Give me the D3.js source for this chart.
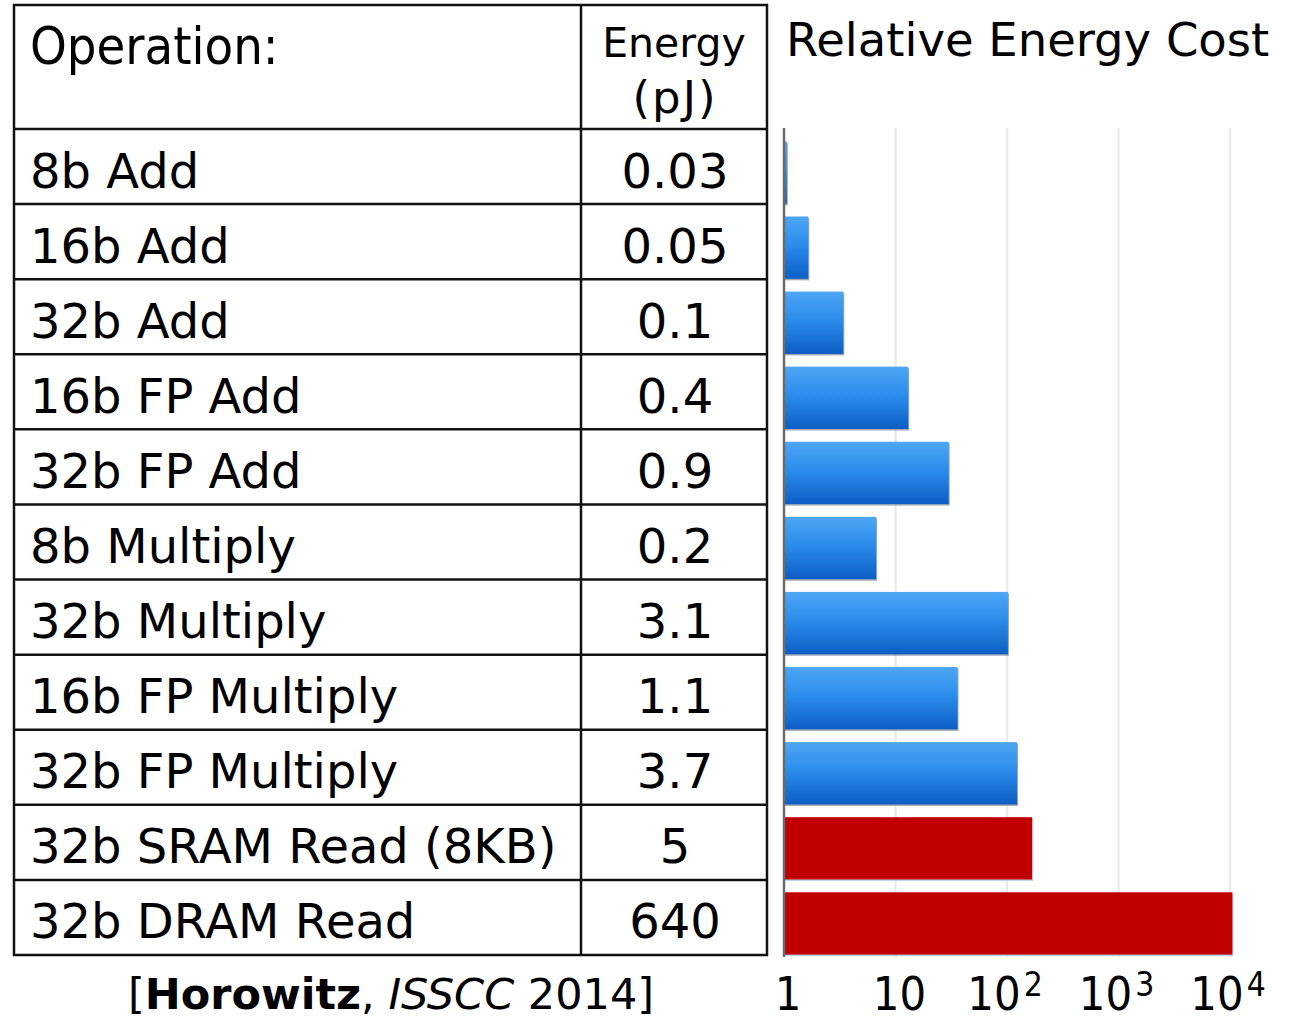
<!DOCTYPE html>
<html>
<head>
<meta charset="utf-8">
<script src="https://cdn.jsdelivr.net/npm/d3@7"></script>
<style>
  html, body { margin: 0; padding: 0; background: #fff; }
  svg { display: block; }
</style>
</head>
<body>
<svg id="chart" width="1304" height="1018"></svg>
<script>
// ---- Data ----
const operations = [
  "8b Add", "16b Add", "32b Add", "16b FP Add", "32b FP Add",
  "8b Multiply", "32b Multiply", "16b FP Multiply", "32b FP Multiply",
  "32b SRAM Read (8KB)", "32b DRAM Read"
];
const energyLabels = ["0.03", "0.05", "0.1", "0.4", "0.9", "0.2", "3.1", "1.1", "3.7", "5", "640"];
// relative energy cost
const relativeCost = [1.06, 1.65, 3.4, 13, 30, 6.7, 102, 36, 123, 168, 10500];
const opKind = ["compute", "compute", "compute", "compute", "compute",
  "compute", "compute", "compute", "compute", "memory", "memory"];
const tickValues = [1, 10, 100, 1000, 10000];
const tickBase = ["1", "10", "10", "10", "10"];
const tickSup = ["", "", "2", "3", "4"];
const headerOperation = "Operation:";
const headerEnergy = ["Energy", "(pJ)"];
const chartTitle = "Relative Energy Cost";

// ---- Layout ----
const svg = d3.select("#chart");
const font = "'DejaVu Sans', Verdana, sans-serif";
const tableLeft = 14, tableRight = 767, colDiv = 581;
const tableTop = 5, headerBottom = 129, tableBottom = 955;

const rowScale = d3.scaleBand().domain(operations).range([headerBottom, tableBottom]);
const x = d3.scaleLog().domain([1, 1e4]).range([784, 1230]);
const yBar = d3.scaleBand().domain(operations)
  .range([headerBottom + 6, tableBottom + 6]).paddingInner(0.17).paddingOuter(0.085);

// ---- Table ----
const table = svg.append("g");
table.append("rect")
  .attr("x", tableLeft).attr("y", tableTop)
  .attr("width", tableRight - tableLeft).attr("height", tableBottom - tableTop)
  .attr("fill", "none").attr("stroke", "#111").attr("stroke-width", 2.5);
table.append("line")
  .attr("x1", colDiv).attr("x2", colDiv).attr("y1", tableTop).attr("y2", tableBottom)
  .attr("stroke", "#111").attr("stroke-width", 2.5);
table.selectAll("line.row").data(operations).enter().append("line")
  .attr("class", "row")
  .attr("x1", tableLeft).attr("x2", tableRight)
  .attr("y1", d => rowScale(d)).attr("y2", d => rowScale(d))
  .attr("stroke", "#111").attr("stroke-width", 2.5);

table.append("text")
  .attr("x", 30).attr("y", 64)
  .attr("font-family", "'DejaVu Sans Condensed', 'DejaVu Sans', sans-serif")
  .attr("font-size", 52).attr("fill", "#000")
  .text(headerOperation);
const ehX = (colDiv + tableRight) / 2;
table.append("text")
  .attr("x", ehX).attr("y", 57)
  .attr("text-anchor", "middle")
  .attr("font-family", font).attr("font-size", 41).attr("fill", "#000")
  .text(headerEnergy[0]);
table.append("text")
  .attr("x", ehX + 1).attr("y", 113)
  .attr("text-anchor", "middle")
  .attr("font-family", font).attr("font-size", 45).attr("letter-spacing", 2)
  .attr("fill", "#000")
  .text(headerEnergy[1]);

table.selectAll("text.op").data(operations).enter().append("text")
  .attr("class", "op")
  .attr("x", 30).attr("y", d => rowScale(d) + rowScale.bandwidth() / 2 + 21)
  .attr("font-family", font).attr("font-size", 48).attr("fill", "#000")
  .text(d => d);
table.selectAll("text.en").data(operations).enter().append("text")
  .attr("class", "en")
  .attr("x", ehX + 1)
  .attr("y", d => rowScale(d) + rowScale.bandwidth() / 2 + 21)
  .attr("text-anchor", "middle")
  .attr("font-family", font).attr("font-size", 48).attr("fill", "#000")
  .text((d, i) => energyLabels[i]);

// citation
const cite = svg.append("text")
  .attr("x", 391).attr("y", 1009).attr("text-anchor", "middle")
  .attr("font-family", font).attr("font-size", 43).attr("fill", "#000");
cite.append("tspan").text("[");
cite.append("tspan").attr("font-weight", "bold").text("Horowitz");
cite.append("tspan").text(", ");
cite.append("tspan").attr("font-style", "italic").text("ISSCC");
cite.append("tspan").text(" 2014]");

// ---- Chart ----
const defs = svg.append("defs");
const grad = defs.append("linearGradient").attr("id", "blueGrad")
  .attr("x1", 0).attr("y1", 0).attr("x2", 0).attr("y2", 1);
grad.append("stop").attr("offset", "0%").attr("stop-color", "#4ea6f4");
grad.append("stop").attr("offset", "45%").attr("stop-color", "#2b8deb");
grad.append("stop").attr("offset", "100%").attr("stop-color", "#0c5ec4");

svg.append("text")
  .attr("x", 786).attr("y", 56)
  .attr("font-family", font).attr("font-size", 46.5).attr("fill", "#000")
  .text(chartTitle);

const chart = svg.append("g");
// gridlines
chart.selectAll("line.grid").data(tickValues.slice(1)).enter().append("line")
  .attr("class", "grid")
  .attr("x1", d => x(d)).attr("x2", d => x(d))
  .attr("y1", 128).attr("y2", 957)
  .attr("stroke", "#ececec").attr("stroke-width", 2.5);

// bar shadows
chart.selectAll("rect.shadow").data(operations).enter().append("rect")
  .attr("class", "shadow")
  .attr("x", x(1) + 1)
  .attr("y", d => yBar(d) + 1.5)
  .attr("width", (d, i) => Math.max(1, x(relativeCost[i]) - x(1)))
  .attr("height", yBar.bandwidth())
  .attr("fill", (d, i) => opKind[i] === "memory" ? "#a9c6ea" : "#7e8a9a")
  .attr("opacity", 0.75);

chart.selectAll("rect.bar").data(operations).enter().append("rect")
  .attr("class", "bar")
  .attr("x", x(1))
  .attr("y", d => yBar(d))
  .attr("width", (d, i) => Math.max(1, x(relativeCost[i]) - x(1)))
  .attr("height", yBar.bandwidth())
  .attr("fill", (d, i) => opKind[i] === "memory" ? "#c00000" : "url(#blueGrad)");

// vertical axis line
chart.append("line")
  .attr("x1", x(1)).attr("x2", x(1)).attr("y1", 128).attr("y2", 957)
  .attr("stroke", "#6b6b6b").attr("stroke-width", 2.5);

// tick labels (slightly tall glyphs as in the reference)
const tl = chart.selectAll("g.tick").data(tickValues).enter().append("g")
  .attr("class", "tick")
  .attr("transform", d => `translate(${x(d) + (d >= 100 ? -2 : 4)},1010) scale(1,1.1)`)
  .append("text")
  .attr("x", 0).attr("y", 0)
  .attr("text-anchor", "middle")
  .attr("font-family", font).attr("font-size", 42).attr("fill", "#000");
tl.append("tspan").text((d, i) => tickBase[i]);
tl.append("tspan").attr("dx", 3).attr("dy", -13).attr("font-size", 30).text((d, i) => tickSup[i]);
</script>
</body>
</html>
